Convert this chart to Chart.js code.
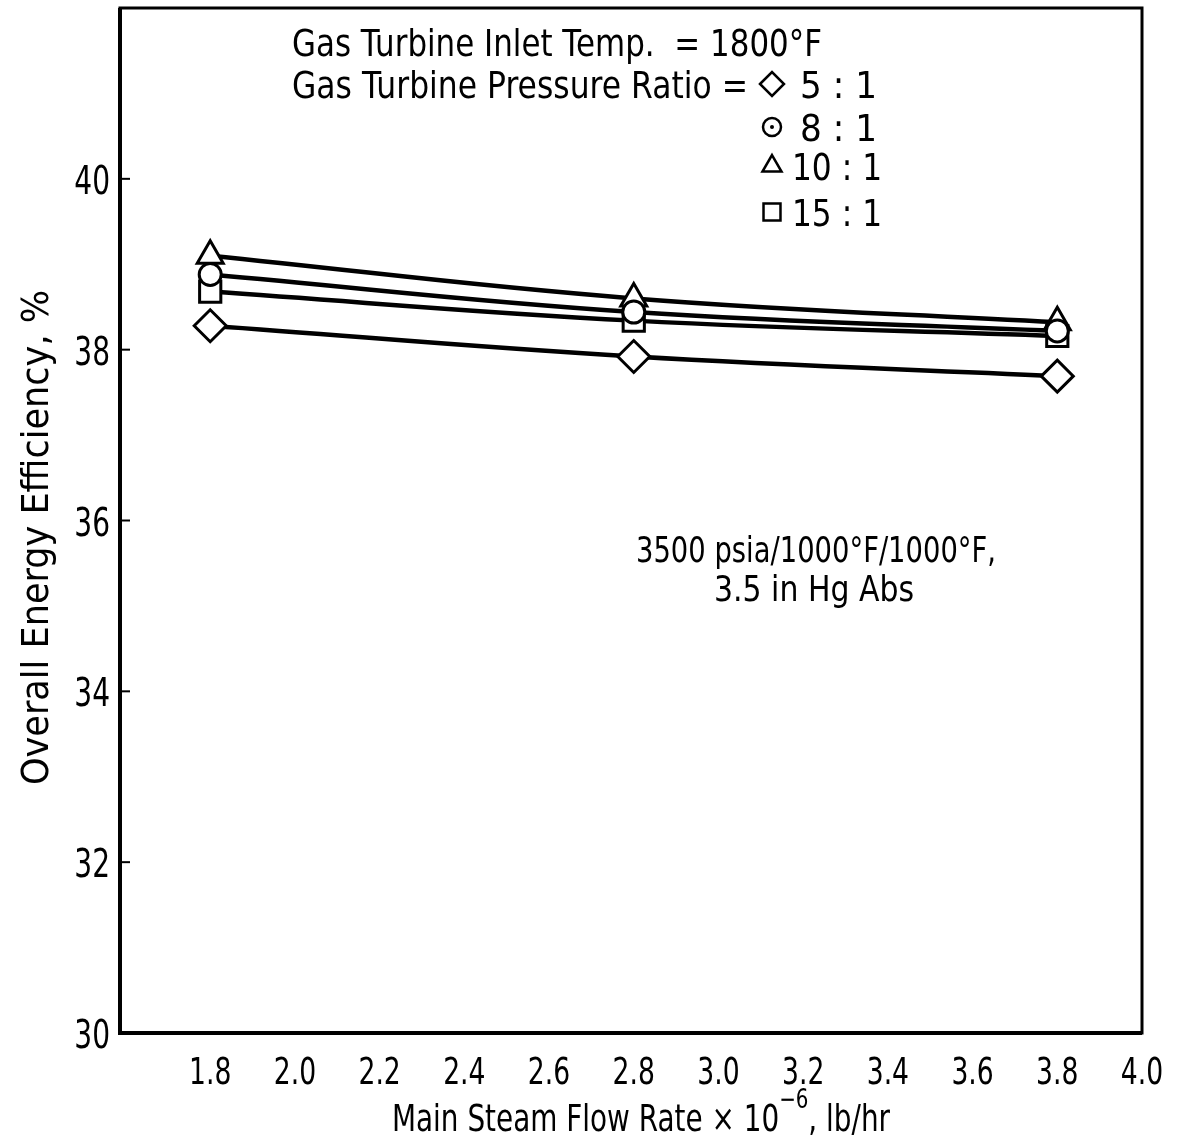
<!DOCTYPE html>
<html>
<head>
<meta charset="utf-8">
<script src="https://cdn.jsdelivr.net/npm/chart.js@4.4.1/dist/chart.umd.min.js"></script>
<style>
  html, body { margin: 0; padding: 0; background: #fff; }
  #wrap { width: 1181px; height: 1144px; position: relative; }
</style>
</head>
<body>
<div id="wrap"><canvas id="effChart"></canvas></div>
<script>
// main steam flow rate, 10^6 lb/hr
var flowRates = [1.8, 2.8, 3.8];
// overall energy efficiency (%) for each gas turbine pressure ratio
var eff5to1 = [38.28, 37.92, 37.69];
var eff8to1 = [38.88, 38.44, 38.22];
var eff10to1 = [39.10, 38.60, 38.32];
var eff15to1 = [38.68, 38.34, 38.16];

var xTickValues = [1.8, 2.0, 2.2, 2.4, 2.6, 2.8, 3.0, 3.2, 3.4, 3.6, 3.8, 4.0];
var yTickValues = [30, 32, 34, 36, 38, 40];

var FONT = "'DejaVu Sans', sans-serif";
var NARROW = 0.72; // horizontal squeeze for the lettering

function pts(ys) {
    return flowRates.map(function (x, i) { return { x: x, y: ys[i] }; });
}

function series(label, ys, style, radius) {
    return {
        label: label,
        data: pts(ys),
        borderColor: '#000',
        borderWidth: 4.5,
        tension: 0.4,
        pointStyle: style,
        pointRadius: radius,
        pointBorderWidth: 3,
        pointBorderColor: '#000',
        pointBackgroundColor: '#fff'
    };
}

// squeeze/stretch a string so it covers exactly w pixels
function fitText(ctx, text, x, y, w) {
    var m = ctx.measureText(text).width;
    ctx.save();
    ctx.translate(x, y);
    ctx.scale(w / m, 1);
    ctx.fillText(text, 0, 0);
    ctx.restore();
}

// draw a string squeezed by a fixed factor, anchored per align
function narrowText(ctx, text, x, y, align) {
    var w = ctx.measureText(text).width * NARROW;
    var x0 = align === 'right' ? x - w : (align === 'center' ? x - w / 2 : x);
    fitText(ctx, text, x0, y, w);
}

var frameAndNotes = {
    id: 'frameAndNotes',
    afterDraw: function (chart) {
        var ctx = chart.ctx;
        var a = chart.chartArea;
        var xScale = chart.scales.x;
        var yScale = chart.scales.y;

        ctx.save();
        ctx.strokeStyle = '#000';
        ctx.lineWidth = 3;
        ctx.strokeRect(a.left, a.top, a.right - a.left, a.bottom - a.top);
        ctx.lineWidth = 4;
        ctx.beginPath();
        ctx.moveTo(a.left, a.top);
        ctx.lineTo(a.left, a.bottom);
        ctx.lineTo(a.right, a.bottom);
        ctx.stroke();

        // short inward ticks on the y axis
        ctx.lineWidth = 2;
        yTickValues.forEach(function (v) {
            var py = yScale.getPixelForValue(v);
            ctx.beginPath();
            ctx.moveTo(a.left, py);
            ctx.lineTo(a.left + 10, py);
            ctx.stroke();
        });

        ctx.fillStyle = '#000';
        ctx.textAlign = 'left';
        ctx.textBaseline = 'alphabetic';

        // tick labels, placed from the scales
        ctx.font = '37px ' + FONT;
        xTickValues.forEach(function (v) {
            narrowText(ctx, v.toFixed(1), xScale.getPixelForValue(v), 1084, 'center');
        });
        ctx.font = '39px ' + FONT;
        yTickValues.forEach(function (v) {
            narrowText(ctx, String(v), a.left - 10, yScale.getPixelForValue(v) + 15, 'right');
        });

        ctx.font = '38px ' + FONT;
        fitText(ctx, 'Gas Turbine Inlet Temp.  = 1800\u00b0F', 292, 56, 530);
        fitText(ctx, 'Gas Turbine Pressure Ratio =', 292, 98, 456);

        var keys = [
            { style: 'rectRot', r: 12, y: 84, text: '5 : 1', x: 800, w: 77 },
            { style: 'circle', r: 9, y: 127, text: '8 : 1', x: 800, w: 77 },
            { style: 'triangle', r: 11, y: 166, text: '10 : 1', x: 792, w: 90 },
            { style: 'rect', r: 12, y: 212, text: '15 : 1', x: 792, w: 90 }
        ];
        keys.forEach(function (k) {
            ctx.lineWidth = 2.5;
            ctx.strokeStyle = '#000';
            ctx.fillStyle = '#fff';
            Chart.helpers.drawPoint(ctx, { pointStyle: k.style, radius: k.r, borderWidth: 2.5 }, 772, k.y);
            ctx.fillStyle = '#000';
            fitText(ctx, k.text, k.x, k.y + 14, k.w);
        });
        // dot inside the 8:1 key circle
        ctx.beginPath();
        ctx.arc(772, 127, 2, 0, Math.PI * 2);
        ctx.fill();

        ctx.font = '35px ' + FONT;
        fitText(ctx, '3500 psia/1000\u00b0F/1000\u00b0F,', 636, 562, 360);
        fitText(ctx, '3.5 in Hg Abs', 714, 601, 200);

        // y axis title
        ctx.font = '38px ' + FONT;
        ctx.save();
        ctx.translate(48, 785);
        ctx.rotate(-Math.PI / 2);
        fitText(ctx, 'Overall Energy Efficiency, %', 0, 0, 495);
        ctx.restore();

        // x axis title with superscript exponent
        var p1 = 'Main Steam Flow Rate \u00d7 10', p2 = '\u22126', p3 = ', lb/hr';
        ctx.font = '38px ' + FONT;
        var w1 = ctx.measureText(p1).width, w3 = ctx.measureText(p3).width;
        ctx.font = '27px ' + FONT;
        var w2 = ctx.measureText(p2).width;
        var s = 498 / (w1 + w2 + w3);
        ctx.save();
        ctx.translate(392, 1131);
        ctx.scale(s, 1);
        ctx.font = '38px ' + FONT;
        ctx.fillText(p1, 0, 0);
        ctx.font = '27px ' + FONT;
        ctx.fillText(p2, w1, -23);
        ctx.font = '38px ' + FONT;
        ctx.fillText(p3, w1 + w2, 0);
        ctx.restore();

        ctx.restore();
    }
};

var ctx = document.getElementById('effChart').getContext('2d');
var effChart = new Chart(ctx, {
    type: 'line',
    data: {
        datasets: [
            series('5 : 1', eff5to1, 'rectRot', 16),
            series('8 : 1', eff8to1, 'circle', 11),
            series('10 : 1', eff10to1, 'triangle', 15),
            series('15 : 1', eff15to1, 'rect', 15)
        ]
    },
    options: {
        responsive: true,
        maintainAspectRatio: false,
        animation: false,
        layout: { autoPadding: false, padding: { top: 8, right: 39, left: 0, bottom: 0 } },
        plugins: {
            legend: { display: false },
            tooltip: { enabled: false }
        },
        scales: {
            x: {
                type: 'linear',
                min: 1.587,
                max: 4.0,
                afterBuildTicks: function (scale) {
                    scale.ticks = xTickValues.map(function (v) { return { value: v }; });
                },
                afterFit: function (scale) {
                    scale.height = 111;
                    scale.paddingLeft = 0;
                    scale.paddingRight = 0;
                },
                grid: { display: false, drawTicks: false },
                border: { display: false },
                ticks: { display: false }
            },
            y: {
                min: 30,
                max: 42,
                afterBuildTicks: function (scale) {
                    scale.ticks = yTickValues.map(function (v) { return { value: v }; });
                },
                afterFit: function (scale) {
                    scale.width = 120;
                    scale.paddingTop = 0;
                    scale.paddingBottom = 0;
                },
                grid: { display: false, drawTicks: false },
                border: { display: false },
                ticks: { display: false }
            }
        }
    },
    plugins: [frameAndNotes]
});
</script>
</body>
</html>
